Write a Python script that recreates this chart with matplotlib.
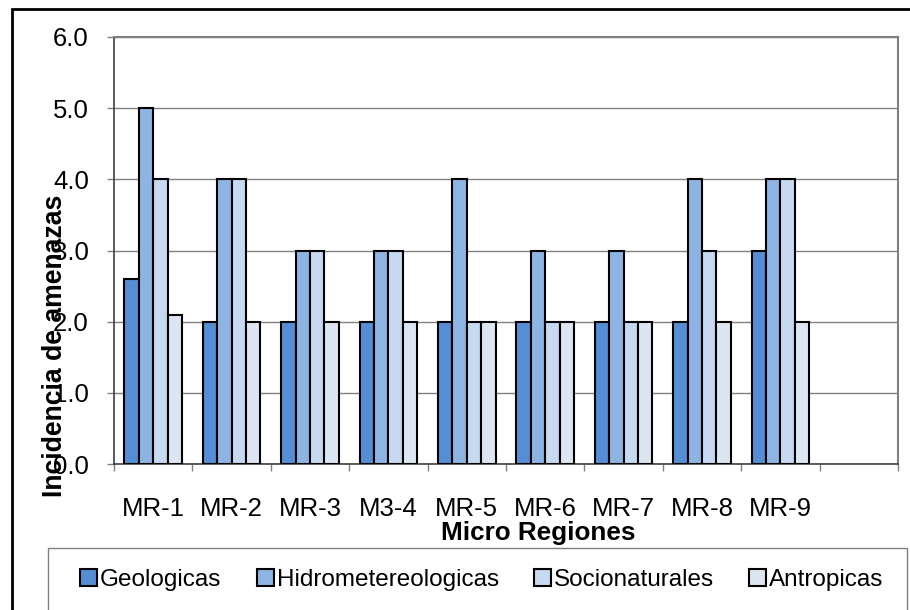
import numpy as np
import matplotlib.pyplot as plt
from matplotlib.patches import Rectangle

plt.rcParams['font.family'] = ['Liberation Sans', 'DejaVu Sans']

# data
regions = ["MR-1", "MR-2", "MR-3", "M3-4", "MR-5", "MR-6", "MR-7", "MR-8", "MR-9", ""]
geologicas = [2.6, 2, 2, 2, 2, 2, 2, 2, 3, 0]
hidro = [5, 4, 3, 3, 4, 3, 3, 4, 4, 0]
socio = [4, 4, 3, 3, 2, 2, 2, 3, 4, 0]
antropicas = [2.1, 2, 2, 2, 2, 2, 2, 2, 2, 0]
series_names = ["Geologicas", "Hidrometereologicas", "Socionaturales", "Antropicas"]
colors = ["#558ED5", "#8DB4E2", "#C6D9F1", "#DCE6F2"]

W, H = 910, 610
fig = plt.figure(figsize=(W/100, H/100), dpi=100)
ax = fig.add_axes([114/W, 1-464/H, (898-114)/W, (464-37)/H])

x = np.arange(len(regions)) + 0.5
bw = 0.184
allvals = [geologicas, hidro, socio, antropicas]
for j, vals in enumerate(allvals):
    v = np.array(vals, dtype=float)
    mask = v > 0
    ax.bar(x[mask] + (j-1.5)*bw, v[mask], width=bw, color=colors[j],
           edgecolor="black", linewidth=1.5, label=series_names[j], zorder=3)

ax.set_xlim(0, len(regions))
ax.set_ylim(0, 6)
ax.set_yticks(np.arange(0, 7, 1))
ax.set_yticklabels(["%.1f" % t for t in np.arange(0, 7, 1)])
ax.yaxis.grid(True, color="#808080", linewidth=1, zorder=0)
ax.tick_params(axis='y', length=5, width=1, color="#808080", pad=13, labelsize=18.5)

ax.set_xticks(x)
ax.set_xticklabels(regions)
ax.set_xticks(np.arange(0, len(regions)+1), minor=True)
ax.tick_params(axis='x', which='major', length=0, pad=24, labelsize=18.5)
ax.tick_params(axis='x', which='minor', length=5, width=1, color="#808080")

for s in ["top", "right"]:
    ax.spines[s].set_color("#808080")
    ax.spines[s].set_linewidth(1.5)
ax.spines["left"].set_color("#404040")
ax.spines["bottom"].set_color("#404040")
ax.spines["left"].set_linewidth(1.2)
ax.spines["bottom"].set_linewidth(1.2)

fig.text(538/W, 1-533/H, "Micro Regiones", ha="center", va="center",
         fontsize=18.8, fontweight="bold")
fig.text(55/W, 1-346/H, "Incidencia de amenazas", ha="center", va="center",
         rotation=90, fontsize=19.2, fontweight="bold")

# outer chart border and legend box
fig.patches.append(Rectangle((12/W, -0.1), 1.2, 1-9/H+0.1, transform=fig.transFigure,
                             fill=False, edgecolor="black", linewidth=2))
fig.patches.append(Rectangle((48/W, -0.1), (907-48)/W, 1-548/H+0.1, transform=fig.transFigure,
                             fill=False, edgecolor="#808080", linewidth=1))

handles, labels = ax.get_legend_handles_labels()
fig.legend(handles, labels, loc="center", bbox_to_anchor=(482/W, 1-580/H), ncol=4,
           frameon=False, fontsize=17.5, handlelength=0.7, handleheight=0.7,
           handletextpad=0.12, columnspacing=1.45, borderpad=0.1)

fig.savefig("out.png", dpi=100)
